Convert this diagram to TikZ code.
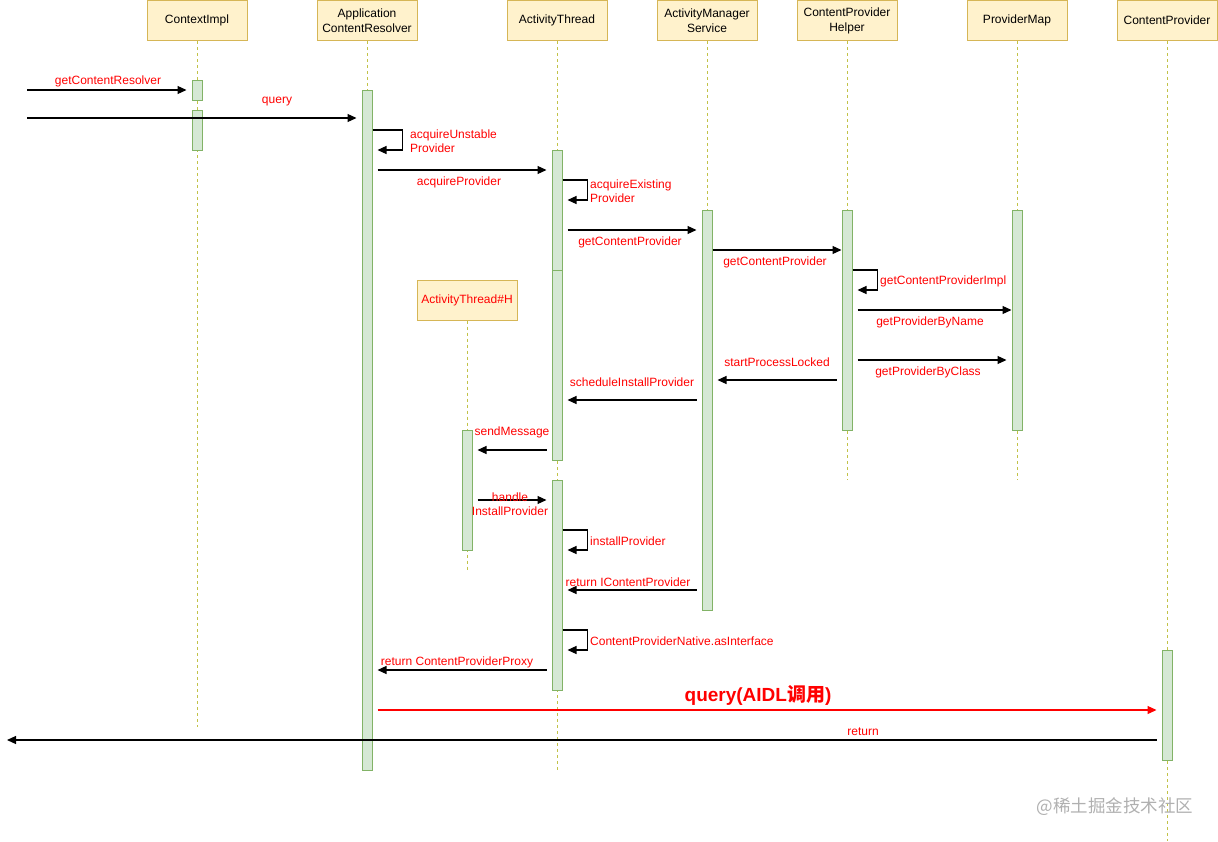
\documentclass[tikz,border=0pt]{standalone}
\usepackage{fontspec}
\setmainfont{Liberation Sans}
\newfontfamily\cjk{Noto Sans CJK SC}
\usetikzlibrary{arrows.meta}
\definecolor{hdrfill}{HTML}{FFF2CC}
\definecolor{hdrline}{HTML}{D6B656}
\definecolor{barfill}{HTML}{D5E8D4}
\definecolor{barline}{HTML}{82B366}
\definecolor{lifec}{HTML}{C2C248}
\definecolor{lbl}{HTML}{FF0000}
\definecolor{wmc}{HTML}{B0B0B0}
\begin{document}
\begin{tikzpicture}[x=1pt,y=-1pt,
  hdr/.style={draw=hdrline, fill=hdrfill, line width=1pt, minimum width=100pt, minimum height=40pt, align=center, font=\fontsize{12}{15}\selectfont, inner sep=0pt},
  bar/.style={draw=barline, fill=barfill, line width=1pt, minimum width=10pt, anchor=north, inner sep=0pt},
  life/.style={draw=lifec, line width=1pt, dash pattern=on 3pt off 3pt},
  msg/.style={draw=black, line width=1.2pt, -{Triangle[length=9pt,width=8pt]}},
  redmsg/.style={draw=lbl, line width=1.2pt, -{Triangle[length=9pt,width=8pt]}},
  lab/.style={text=lbl, font=\fontsize{12}{14}\selectfont, inner sep=0pt, align=center},
  labl/.style={lab, anchor=west, align=left},
]
\useasboundingbox (0,0) rectangle (1218,841);

% headers
\node[hdr] (hCI) at (197,20.5) {ContextImpl};
\node[hdr] (hCR) at (367,20.5) {Application\\ContentResolver};
\node[hdr] (hAT) at (557,20.5) {ActivityThread};
\node[hdr] (hAMS) at (707,20.5) {ActivityManager\\Service};
\node[hdr] (hCPH) at (847,20.5) {ContentProvider\\Helper};
\node[hdr] (hPM) at (1017,20.5) {ProviderMap};
\node[hdr] (hCP) at (1167,20.5) {ContentProvider};
\node[hdr, text=lbl] (hH) at (467,300) {ActivityThread\#H};

% lifelines
\draw[life] (hCI.south) -- (197,727);
\draw[life] (hCR.south) -- (367,770);
\draw[life] (hAT.south) -- (557,770);
\draw[life] (hAMS.south) -- (707,610);
\draw[life] (hCPH.south) -- (847,480);
\draw[life] (hPM.south) -- (1017,480);
\draw[life] (hCP.south) -- (1167,841);
\draw[life] (hH.south) -- (467,570);

% activation bars
\node[bar, minimum height=20pt] (ciBar1) at (197,80) {};
\node[bar, minimum height=40pt] (ciBar2) at (197,110) {};
\node[bar, minimum height=680pt] (crBar) at (367,90) {};
\node[bar, minimum height=120pt] (atBar1) at (557,150) {};
\node[bar, minimum height=190pt] (atBar2) at (557,270) {};
\node[bar, minimum height=210pt] (atBar3) at (557,480) {};
\node[bar, minimum height=400pt] (amsBar) at (707,210) {};
\node[bar, minimum height=220pt] (cphBar) at (847,210) {};
\node[bar, minimum height=220pt] (pmBar) at (1017,210) {};
\node[bar, minimum height=120pt] (hBar) at (467,430) {};
\node[bar, minimum height=110pt] (cpBar) at (1167,650) {};

% free ends
\coordinate (in1) at (27,90);
\coordinate (in2) at (27,118);
\coordinate (out1) at (7,740);

% messages
\draw[msg, shorten >=5pt] (in1) -- (ciBar1.west |- in1);
\node[lab] (l1) at (108,81) {getContentResolver};

\draw[msg, shorten >=5pt] (in2) -- (crBar.west |- in2);
\node[lab] (l2) at (277,102) {query};

\draw[msg] (crBar.east |- 0,130) -- ++(30,0) -- ++(0,20) -- ++(-25,0);
\node[labl] (l3) at (410,141) {acquireUnstable\\Provider};

\draw[msg, shorten <=5pt, shorten >=5pt] (crBar.east |- 0,170) -- (atBar1.west |- 0,170);
\node[lab] (l4) at (459,182) {acquireProvider};

\draw[msg] (atBar1.east |- 0,180) -- ++(25,0) -- ++(0,20) -- ++(-20,0);
\node[labl] (l5) at (590,191) {acquireExisting\\Provider};

\draw[msg, shorten <=5pt, shorten >=5pt] (atBar1.east |- 0,230) -- (amsBar.west |- 0,230);
\node[lab] (l6) at (630,242) {getContentProvider};

\draw[msg] (amsBar.east |- 0,250) -- (cphBar.west |- 0,250);
\node[lab] (l7) at (775,262) {getContentProvider};

\draw[msg] (cphBar.east |- 0,270) -- ++(25,0) -- ++(0,20) -- ++(-20,0);
\node[labl] (l8) at (880,281) {getContentProviderImpl};

\draw[msg, shorten <=5pt] (cphBar.east |- 0,310) -- (pmBar.west |- 0,310);
\node[lab] (l9) at (930,322) {getProviderByName};

\draw[msg, shorten <=5pt, shorten >=5pt] (cphBar.east |- 0,360) -- (pmBar.west |- 0,360);
\node[lab] (l10) at (928,372) {getProviderByClass};

\draw[msg, shorten <=5pt, shorten >=5pt] (cphBar.west |- 0,380) -- (amsBar.east |- 0,380);
\node[lab] (l11) at (777,362) {startProcessLocked};

\draw[msg, shorten <=5pt, shorten >=5pt] (amsBar.west |- 0,400) -- (atBar2.east |- 0,400);
\node[lab] (l12) at (632,382) {scheduleInstallProvider};

\draw[msg, shorten <=5pt, shorten >=5pt] (atBar2.west |- 0,450) -- (hBar.east |- 0,450);
\node[lab] (l13) at (512,432) {sendMessage};

\draw[msg, shorten <=5pt, shorten >=5pt] (hBar.east |- 0,500) -- (atBar3.west |- 0,500);
\node[lab] (l14) at (510,504) {handle\\InstallProvider};

\draw[msg] (atBar3.east |- 0,530) -- ++(25,0) -- ++(0,20) -- ++(-20,0);
\node[labl] (l15) at (590,541) {installProvider};

\draw[msg, shorten <=5pt, shorten >=5pt] (amsBar.west |- 0,590) -- (atBar3.east |- 0,590);
\node[lab] (l16) at (628,582) {return IContentProvider};

\draw[msg] (atBar3.east |- 0,630) -- ++(25,0) -- ++(0,20) -- ++(-20,0);
\node[labl] (l17) at (590,641) {ContentProviderNative.asInterface};

\draw[msg, shorten <=5pt, shorten >=5pt] (atBar3.west |- 0,670) -- (crBar.east |- 0,670);
\node[lab] (l18) at (457,662) {return ContentProviderProxy};

\draw[redmsg, shorten <=5pt, shorten >=5pt] (crBar.east |- 0,710) -- (cpBar.west |- 0,710);
\node[lab, font=\fontsize{19}{21}\selectfont\bfseries] (l19) at (758,695) {query(AIDL{\cjk\bfseries 调用})};

\draw[msg, shorten <=5pt] (cpBar.west |- out1) -- (out1);
\node[lab] (l20) at (863,732) {return};

% watermark
\node[text=wmc, font=\cjk\fontsize{17.5}{20}\selectfont, inner sep=0pt] (wm) at (1115,807) {@稀土掘金技术社区};
\end{tikzpicture}
\end{document}
